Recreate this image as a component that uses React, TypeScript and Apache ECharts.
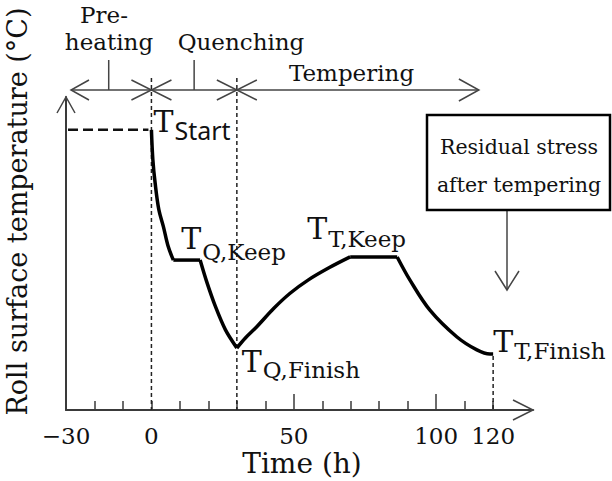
import React, { useEffect, useRef } from "react";
import * as echarts from "echarts";

// ---- data (time in h, temperature in arbitrary units) ----
const xMinorTicks = [-20, -10, 0, 10, 20, 30, 40, 60, 70, 80, 90, 110, 120];
const xMajorTicks = [50, 100];
const xTickLabels = [-30, 0, 50, 100, 120];

const quenchDrop1 = [[0, 89.5], [0.5, 80], [1.3, 72.5], [2.6, 64], [4.2, 58.6], [5.9, 52.2], [7.7, 47.9]];
const quenchKeep = [[7.7, 47.9], [17.1, 47.9]];
const quenchDrop2 = [[17.1, 47.9], [19.4, 41], [22.5, 33], [26, 25.6], [30, 19.8]];
const temperRise = [[30, 19.8], [33, 23], [37, 26.6], [43, 32.5], [48.7, 37.3], [55, 41.5], [62.5, 45.5], [69.8, 48.9]];
const temperKeep = [[69.8, 48.9], [86.3, 48.9]];
const temperCool = [[86.3, 48.9], [90.8, 41.5], [97.8, 31.9], [107.2, 23.4], [114.3, 19.2], [118.9, 17.9], [120, 17.9]];

const phaseBounds = [-30, 0, 30, 115];
const phaseMids = [-15, 15];
const phaseNames = ["Pre-", "heating", "Quenching", "Tempering"];

const SERIF = "DejaVu Serif";
const INK = "#111";
const AXIS = "#3a3a3a";

export default function App() {
  const ref = useRef<HTMLDivElement>(null);
  useEffect(() => {
    const el = ref.current;
    if (!el) return;
    const chart = echarts.init(el, null, { renderer: "svg" });
    const segStyle = { color: "#000", width: 3.5 };
    const seg = (data: number[][], smooth: number | boolean) => ({
      type: "line",
      data,
      smooth,
      symbol: "none",
      lineStyle: segStyle,
      itemStyle: { color: "#000" },
      clip: false,
      z: 5,
    });
    chart.setOption({
      animation: false,
      backgroundColor: "#fff",
      grid: { left: 66, right: 79, top: 97, bottom: 71 },
      xAxis: [
        {
          type: "value",
          min: -30,
          max: 134,
          position: "bottom",
          axisLine: { show: true, onZero: false, lineStyle: { color: AXIS, width: 2 } },
          axisTick: { show: true, inside: true, length: 9, customValues: xMinorTicks, lineStyle: { color: AXIS, width: 1.5 } },
          axisLabel: {
            show: true,
            customValues: xTickLabels,
            margin: 14,
            color: INK,
            fontFamily: SERIF,
            fontSize: 23,
            formatter: (v: number) => (v < 0 ? "\u2212" + Math.abs(v) : String(v)),
          },
          splitLine: { show: false },
        },
        {
          type: "value",
          min: -30,
          max: 134,
          position: "bottom",
          axisLine: { show: false, onZero: false },
          axisTick: { show: true, inside: true, length: 16, customValues: xMajorTicks, lineStyle: { color: AXIS, width: 1.5 } },
          axisLabel: { show: false },
          splitLine: { show: false },
        },
      ],
      yAxis: {
        type: "value",
        min: 0,
        max: 100,
        axisLine: { show: true, onZero: false, lineStyle: { color: AXIS, width: 2 } },
        axisTick: { show: false },
        axisLabel: { show: false },
        splitLine: { show: false },
      },
      series: [
        seg(quenchDrop1, 0.35),
        seg(quenchKeep, false),
        seg(quenchDrop2, 0.3),
        seg(temperRise, 0.35),
        seg(temperKeep, false),
        seg(temperCool, 0.35),
      ],
    });

    const P = (x: number, y: number) => chart.convertToPixel({ seriesIndex: 0 }, [x, y]) as number[];
    const g: any[] = [];
    const line = (x1: number, y1: number, x2: number, y2: number, style: any) =>
      g.push({ type: "line", silent: true, z: 3, shape: { x1, y1, x2, y2 }, style });
    const poly = (points: number[][], style: any) =>
      g.push({ type: "polyline", silent: true, z: 3, shape: { points }, style: { fill: "none", ...style } });
    const text = (t: string, x: number, y: number, fontSize: number, extra: any = {}) =>
      g.push({
        type: "text",
        silent: true,
        z: 6,
        x,
        y,
        ...(extra.rotation ? { rotation: extra.rotation } : {}),
        style: {
          text: t,
          fontSize,
          fontFamily: extra.fontFamily || SERIF,
          fill: INK,
          align: extra.align || "center",
          verticalAlign: "middle",
        },
      });

    const arrowStyle = { stroke: "#444", lineWidth: 1.5 };
    const dashV = { stroke: "#222", lineWidth: 1.5, lineDash: [4, 3] };

    // axis arrows
    const origin = P(-30, 0);
    const yTop = P(-30, 100);
    const xEnd = P(134, 0);
    poly([[yTop[0] - 9, yTop[1] + 16], [yTop[0], yTop[1]], [yTop[0] + 9, yTop[1] + 16]], arrowStyle);
    poly([[xEnd[0] - 20, xEnd[1] - 10], [xEnd[0], xEnd[1]], [xEnd[0] - 20, xEnd[1] + 10]], arrowStyle);

    // phase arrow row
    const rowY = 90;
    const bx = phaseBounds.map((b) => P(b, 0)[0]);
    const leftTip = bx[0] + 5;
    line(leftTip, rowY, bx[3], rowY, arrowStyle);
    poly([[leftTip + 18, rowY - 10], [leftTip, rowY], [leftTip + 18, rowY + 10]], arrowStyle);
    [bx[1], bx[2]].forEach((x) => {
      poly([[x - 20, rowY - 10], [x, rowY], [x - 20, rowY + 10]], arrowStyle);
      poly([[x + 20, rowY - 10], [x, rowY], [x + 20, rowY + 10]], arrowStyle);
    });
    poly([[bx[3] - 20, rowY - 11], [bx[3], rowY], [bx[3] - 20, rowY + 11]], arrowStyle);
    phaseMids.forEach((m) => {
      const x = P(m, 0)[0];
      line(x, 60, x, rowY, arrowStyle);
    });
    text(phaseNames[0], 104, 14.5, 23);
    text(phaseNames[1], 109, 42, 23);
    text(phaseNames[2], 241, 42, 23);
    text(phaseNames[3], 351.5, 72.5, 23);

    // dashed guides
    [0, 30].forEach((v) => {
      const x = P(v, 0)[0];
      line(x, 78, x, origin[1], dashV);
    });
    const tfin = P(temperCool[temperCool.length - 1][0], temperCool[temperCool.length - 1][1]);
    line(tfin[0], tfin[1] + 2, tfin[0], origin[1], dashV);
    const ts = P(quenchDrop1[0][0], quenchDrop1[0][1]);
    line(origin[0] + 2, ts[1], ts[0] - 3, ts[1], { stroke: "#111", lineWidth: 2.5, lineDash: [10, 5] });

    // point labels
    const lab = (anchor: number[], sub: string, tdx: number, tdy: number, sdx: number, sdy: number, subFont?: string, subSize?: number) => {
      const a = P(anchor[0], anchor[1]);
      text("T", a[0] + tdx, a[1] + tdy, 30, { align: "left" });
      text(sub, a[0] + sdx, a[1] + sdy, subSize || 23, { align: "left", fontFamily: subFont });
    };
    lab(quenchDrop1[0], "Start", 2, -8, 23, 0, "Noto Sans", 25);
    lab(quenchKeep[0], "Q,Keep", 8, -21.5, 29, -8.5);
    lab(quenchDrop2[quenchDrop2.length - 1], "Q,Finish", 5, 13, 26, 22);
    lab(temperKeep[0], "T,Keep", -43, -28, -22, -17.5);
    lab(temperCool[temperCool.length - 1], "T,Finish", 0, -12.5, 21, -2.5);

    // residual stress box
    g.push({
      type: "rect",
      silent: true,
      z: 4,
      shape: { x: 427, y: 115, width: 183, height: 95 },
      style: { fill: "#fff", stroke: "#000", lineWidth: 2.5 },
    });
    text("Residual stress", 519, 147, 20.5);
    text("after tempering", 519, 185, 20.5);
    line(507, 211, 507, 290, arrowStyle);
    poly([[495, 271], [507, 290], [519, 271]], arrowStyle);

    // axis titles
    text("Roll surface temperature (\u00B0C)", 17.5, 211.5, 27, { rotation: Math.PI / 2 });
    text("Time (h)", 302, 463.5, 28);

    chart.setOption({ graphic: g });
    return () => chart.dispose();
  }, []);
  return (
    <div
      ref={ref}
      style={{ position: "absolute", left: 0, top: 0, width: 612, height: 481, background: "#fff" }}
    />
  );
}
